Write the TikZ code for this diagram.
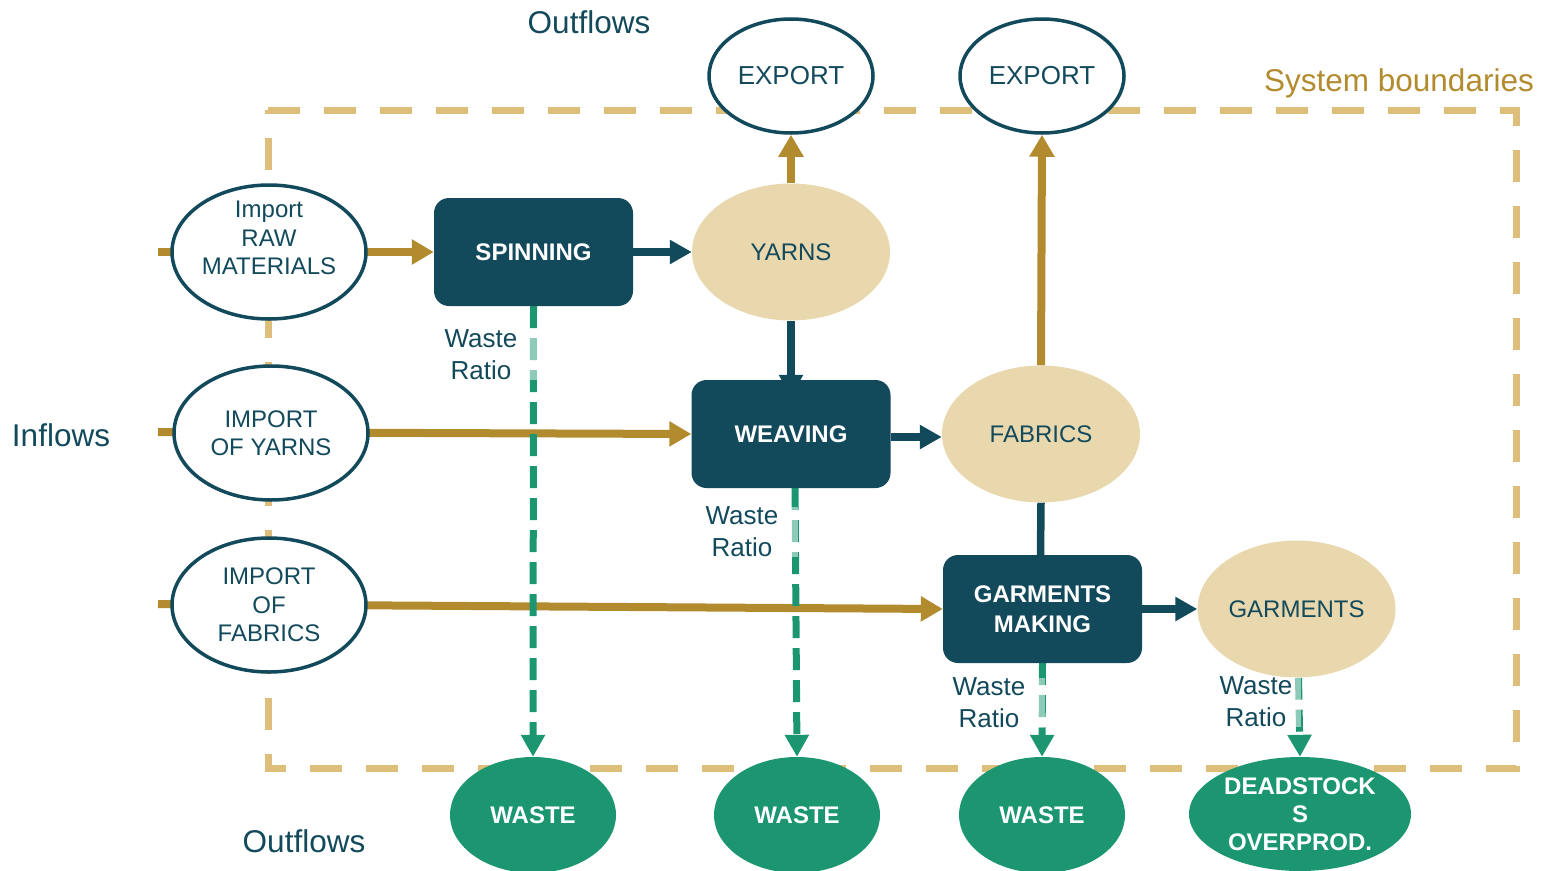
\documentclass[tikz,border=0pt]{standalone}
\usepackage{fontspec}
\setmainfont{Liberation Sans}
\usetikzlibrary{shapes.geometric,arrows.meta,backgrounds}
\definecolor{dteal}{HTML}{124A5C}
\definecolor{goldc}{HTML}{B38B2F}
\definecolor{lgold}{HTML}{DDBE7A}
\definecolor{beigec}{HTML}{E9D7AE}
\definecolor{wgreen}{HTML}{1B9670}
\tikzset{
  inell/.style={ellipse, draw=dteal, line width=3.5pt, fill=white, inner sep=0pt,
    minimum width=194pt, minimum height=134pt, text=dteal, align=center,
    font=\fontsize{24}{28.5}\selectfont},
  procbox/.style={rectangle, rounded corners=15pt, fill=dteal, minimum width=199pt,
    minimum height=108pt, text=white, align=center, font=\fontsize{24}{30}\bfseries\selectfont},
  prodell/.style={ellipse, fill=beigec, minimum width=198pt, minimum height=137pt,
    inner sep=0pt, text=dteal, font=\fontsize{24}{28}\selectfont},
  expell/.style={ellipse, draw=dteal, line width=3.5pt, fill=white, inner sep=0pt,
    minimum width=164pt, minimum height=114pt, text=dteal, font=\fontsize{26}{30}\selectfont},
  wasteell/.style={ellipse, fill=wgreen, minimum width=166pt, minimum height=116pt,
    inner sep=0pt, text=white, align=center, font=\fontsize{24}{28}\bfseries\selectfont},
  ratiolbl/.style={fill=white, fill opacity=0.5, text opacity=1, text=dteal, align=center,
    font=\fontsize{26}{32}\selectfont, inner ysep=0pt},
  titletxt/.style={text=dteal, font=\fontsize{31.5}{36}\selectfont, inner sep=0pt},
  goldarr/.style={draw=goldc, line width=8pt, -{Triangle[length=22pt,width=24pt]}},
  tealarr/.style={draw=dteal, line width=7.5pt, -{Triangle[length=22pt,width=23pt]}},
  tealline/.style={draw=dteal, line width=7.5pt},
  wastearr/.style={draw=wgreen, line width=7pt, dash pattern=on 22pt off 10pt,
    -{Triangle[length=22pt,width=23pt]}},
  boundary/.style={draw=lgold, line width=7pt, dash pattern=on 32pt off 24pt}
}
\begin{document}
\begin{tikzpicture}[x=1pt,y=-1pt]
\useasboundingbox (0,0) rectangle (1544,870);
\clip (0,0) rectangle (1544,870);

% nodes
\node[inell] (imp1) at (269,252) {\raisebox{5pt}[0pt][0pt]{\begin{tabular}{@{}c@{}}Import\\RAW\\MATERIALS\end{tabular}}};
\node[inell] (imp2) at (271,433) {IMPORT\\OF YARNS};
\node[inell] (imp3) at (269,605) {IMPORT\\OF\\FABRICS};

\node[procbox] (spin) at (533.5,252) {SPINNING};
\node[procbox] (weav) at (791,434) {WEAVING};
\node[procbox] (garm) at (1042.5,609) {GARMENTS\\MAKING};

\node[prodell] (yarns) at (791,252) {YARNS};
\node[prodell] (fab) at (1041,434) {FABRICS};
\node[prodell] (garp) at (1296.5,609) {GARMENTS};

\node[expell] (exp1) at (791,76) {EXPORT};
\node[expell] (exp2) at (1042,76) {EXPORT};

\node[wasteell] (w1) at (533,815) {WASTE};
\node[wasteell] (w2) at (797,815) {WASTE};
\node[wasteell] (w3) at (1042,815) {WASTE};
\node[wasteell, minimum width=222pt, minimum height=114pt] (w4) at (1300,814) {DEADSTOCK\\S\\OVERPROD.};

\coordinate (s1) at (158,252);
\coordinate (s2) at (158,432);
\coordinate (s3) at (158,604);

% background: boundary and connectors
\begin{scope}[on background layer]
  \draw[boundary] (268,110) -- (1516,110) -- (1516,768) -- (268,768) -- cycle;
  \draw[goldarr] (s1) -- (spin.west);
  \draw[goldarr] (s2) -- (weav.west);
  \draw[goldarr] (s3) -- (garm.west);
  \draw[tealarr] (spin.east) -- (yarns.west);
  \draw[goldarr] (yarns.north) -- (exp1.south);
  \draw[tealarr] (yarns.south) -- ([yshift=-17pt]weav.north);
  \draw[tealarr] ([yshift=-3pt]weav.east) -- ([yshift=-3pt]fab.west);
  \draw[goldarr] (fab.north) -- (exp2.south);
  \draw[tealline] (fab.south) -- ([xshift=-2pt]garm.north);
  \draw[tealarr] (garm.east) -- (garp.west);
  \draw[wastearr] (spin.south) -- (w1.north);
  \draw[wastearr] ([xshift=4pt]weav.south) -- (w2.north);
  \draw[wastearr] (garm.south) -- (w3.north);
  \draw[wastearr] ([xshift=2pt]garp.south) -- (w4.north);
\end{scope}

% waste ratio labels
\node[ratiolbl, inner xsep=20pt] (r1) at (481,355) {Waste\\Ratio};
\node[ratiolbl, inner xsep=20pt] (r2) at (742,532) {Waste\\Ratio};
\node[ratiolbl, inner xsep=20pt] (r3) at (989,703) {Waste\\Ratio};
\node[ratiolbl, inner xsep=9pt] (r4) at (1256,702) {Waste\\Ratio};

% titles
\node[titletxt] (outtop) at (589,22) {Outflows};
\node[titletxt] (outbot) at (304,841) {Outflows};
\node[titletxt] (infl) at (61,435) {Inflows};
\node[titletxt, text=goldc] (sysb) at (1399,83) {System boundaries};
\end{tikzpicture}
\end{document}
